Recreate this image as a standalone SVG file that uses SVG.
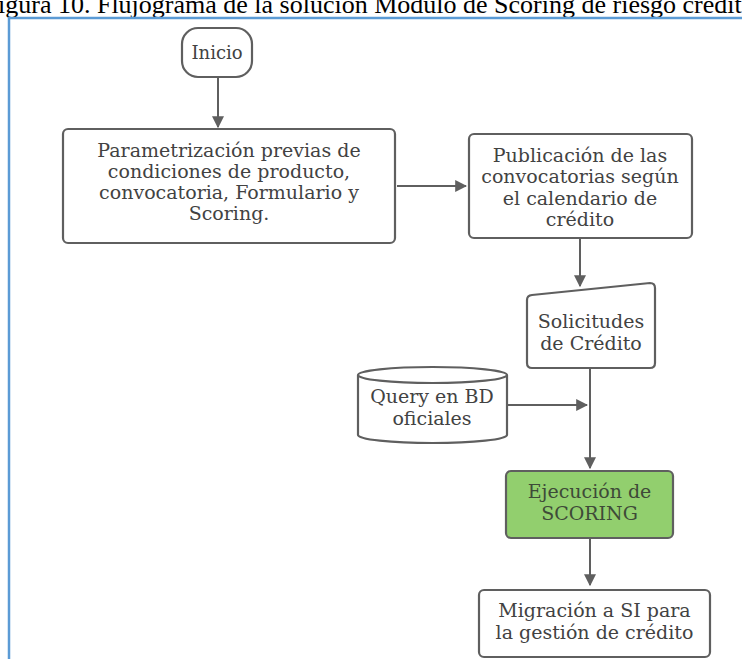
<svg xmlns="http://www.w3.org/2000/svg" width="742" height="659" viewBox="0 0 742 659">
<defs>
<style>
.box{fill:#ffffff;stroke:#5f5f5f;stroke-width:2.2}
.t{font-family:"DejaVu Serif","Liberation Serif",serif;font-size:19px;fill:#424242;text-anchor:middle}
.c{stroke:#5f5f5f;stroke-width:2;fill:none}
</style>
<marker id="ah" viewBox="0 0 10 10" refX="9" refY="5" markerWidth="6" markerHeight="6" markerUnits="strokeWidth" orient="auto">
<path d="M0,0 L10,5 L0,10 z" fill="#5f5f5f"/>
</marker>
</defs>
<rect width="742" height="659" fill="#ffffff"/>
<text x="-2" y="13" font-family="Liberation Serif,serif" font-size="26" fill="#000">igura 10. Flujograma de la solución Módulo de Scoring de riesgo credit</text>
<path d="M9,659 L9,18 L742,18" fill="none" stroke="#5b9bd5" stroke-width="2.5"/>
<g id="connectors">
<path class="c" d="M218,77 L218,127" marker-end="url(#ah)"/>
<path class="c" d="M397,186 L466,186" marker-end="url(#ah)"/>
<path class="c" d="M580,238 L580,286" marker-end="url(#ah)"/>
<path class="c" d="M507,405 L587,405" marker-end="url(#ah)"/>
<path class="c" d="M590,368 L590,468" marker-end="url(#ah)"/>
<path class="c" d="M590,538 L590,585" marker-end="url(#ah)"/>
</g>
<g id="inicio">
<rect class="box" x="182" y="28" width="70" height="49" rx="16"/>
<text class="t" x="217" y="59" style="font-size:18px">Inicio</text>
</g>
<g id="parametrizacion">
<rect class="box" x="63" y="129" width="332" height="114" rx="5"/>
<text class="t" x="229" y="157">Parametrización previas de</text>
<text class="t" x="229" y="178">condiciones de producto,</text>
<text class="t" x="229" y="199">convocatoria, Formulario y</text>
<text class="t" x="229" y="220">Scoring.</text>
</g>
<g id="publicacion">
<rect class="box" x="469" y="134" width="223" height="104" rx="5"/>
<text class="t" x="580" y="162">Publicación de las</text>
<text class="t" x="580" y="183">convocatorias según</text>
<text class="t" x="580" y="205">el calendario de</text>
<text class="t" x="580" y="226">crédito</text>
</g>
<g id="solicitudes">
<path class="box" d="M532,295 L650,283 Q655,283 655,288 L655,363 Q655,368 650,368 L532,368 Q527,368 527,363 L527,300 Q527,295.5 532,295 Z"/>
<text class="t" x="591" y="328">Solicitudes</text>
<text class="t" x="591" y="350">de Crédito</text>
</g>
<g id="query">
<path class="box" d="M358,375 L358,435 A74.5,8 0 0 0 507,435 L507,375"/>
<ellipse class="box" cx="432.5" cy="375" rx="74.5" ry="8"/>
<text class="t" x="432" y="403">Query en BD</text>
<text class="t" x="432" y="425">oficiales</text>
</g>
<g id="ejecucion">
<rect x="506" y="471" width="167" height="67" rx="5" fill="#92cf6e" stroke="#5f5f5f" stroke-width="2.2"/>
<text class="t" x="589.5" y="498" style="fill:#3e4a38">Ejecución de</text>
<text class="t" x="589.5" y="520" style="fill:#3e4a38">SCORING</text>
</g>
<g id="migracion">
<rect class="box" x="479" y="590" width="231" height="67" rx="5"/>
<text class="t" x="594.5" y="617">Migración a SI para</text>
<text class="t" x="594.5" y="639">la gestión de crédito</text>
</g>
</svg>
